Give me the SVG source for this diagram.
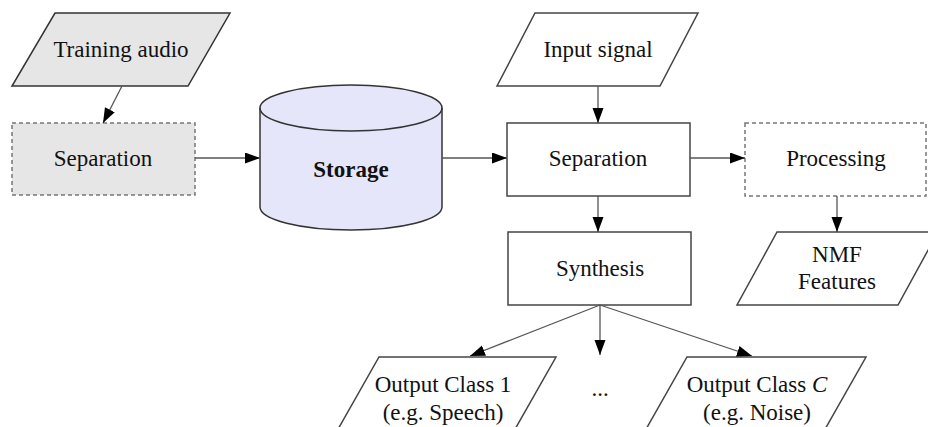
<svg xmlns="http://www.w3.org/2000/svg" width="928" height="427" viewBox="0 0 928 427">
  <style>
    .lbl { font-family: "Liberation Serif", "Times New Roman", serif; font-size: 23px; fill: #111; text-anchor: middle; }
    .bold { font-weight: bold; }
    .solid { fill: #fff; stroke: #444; stroke-width: 1.5; }
    .grey { fill: #e6e6e6; stroke: #333; stroke-width: 1.5; }
    .dash { stroke: #777; stroke-width: 1.5; stroke-dasharray: 4 3; }
    .edge { fill: none; stroke: #555; stroke-width: 1.3; marker-end: url(#arrow); }
  </style>
  <defs>
    <marker id="arrow" markerUnits="userSpaceOnUse" markerWidth="16" markerHeight="12" refX="15" refY="5.5" orient="auto">
      <path d="M0,0 L15,5.5 L0,11 Z" fill="#000"/>
    </marker>
  </defs>
  <rect width="928" height="427" fill="#fff"/>

  <g id="training-audio">
    <polygon class="grey" points="55,13 230,13 188,86 12,86"/>
    <text class="lbl" x="121" y="57">Training audio</text>
  </g>
  <g id="separation-train">
    <rect class="dash" x="12" y="123" width="183" height="72" fill="#e6e6e6"/>
    <text class="lbl" x="103" y="166">Separation</text>
  </g>
  <g id="storage">
    <path d="M260,108 L260,207 A91,23 0 0 0 442,207 L442,108 A91,23 0 0 0 260,108 Z" fill="#e6e6fa" stroke="#333" stroke-width="1.5"/>
    <path d="M260,108 A91,23 0 0 0 442,108" fill="none" stroke="#333" stroke-width="1.5"/>
    <text class="lbl bold" x="351" y="177">Storage</text>
  </g>
  <g id="input-signal">
    <polygon class="solid" points="535,13 698,13 660,86 497,86"/>
    <text class="lbl" x="598" y="57">Input signal</text>
  </g>
  <g id="separation">
    <rect class="solid" x="507" y="123" width="183" height="73"/>
    <text class="lbl" x="598" y="166">Separation</text>
  </g>
  <g id="processing">
    <rect class="dash" x="745" y="123" width="181" height="73" fill="#fff"/>
    <text class="lbl" x="836" y="166">Processing</text>
  </g>
  <g id="nmf-features">
    <polygon class="solid" points="777,232 938,232 898,305 737,305"/>
    <text class="lbl" x="837" y="262">NMF</text>
    <text class="lbl" x="837" y="289">Features</text>
  </g>
  <g id="synthesis">
    <rect class="solid" x="508" y="232" width="183" height="73"/>
    <text class="lbl" x="600" y="276">Synthesis</text>
  </g>
  <g id="output-class-1">
    <polygon class="solid" points="379,357 556,357 514,431 337,431"/>
    <text class="lbl" x="443" y="392">Output Class 1</text>
    <text class="lbl" x="443" y="420">(e.g. Speech)</text>
  </g>
  <g id="ellipsis">
    <text class="lbl" x="600" y="396">...</text>
  </g>
  <g id="output-class-c">
    <polygon class="solid" points="687,357 866,357 824,431 645,431"/>
    <text class="lbl" x="757" y="392">Output Class <tspan font-style="italic">C</tspan></text>
    <text class="lbl" x="757" y="420">(e.g. Noise)</text>
  </g>

  <g id="connectors">
    <line class="edge" x1="122" y1="86" x2="103" y2="123"/>
    <line class="edge" x1="195" y1="158" x2="260" y2="158"/>
    <line class="edge" x1="442" y1="158" x2="507" y2="158"/>
    <line class="edge" x1="598" y1="86" x2="598" y2="123"/>
    <line class="edge" x1="690" y1="158" x2="745" y2="158"/>
    <line class="edge" x1="598" y1="196" x2="598" y2="232"/>
    <line class="edge" x1="837" y1="196" x2="837" y2="232"/>
    <line class="edge" x1="600" y1="305" x2="470" y2="356"/>
    <line class="edge" x1="600" y1="305" x2="600" y2="355"/>
    <line class="edge" x1="600" y1="305" x2="752" y2="356"/>
  </g>
</svg>
